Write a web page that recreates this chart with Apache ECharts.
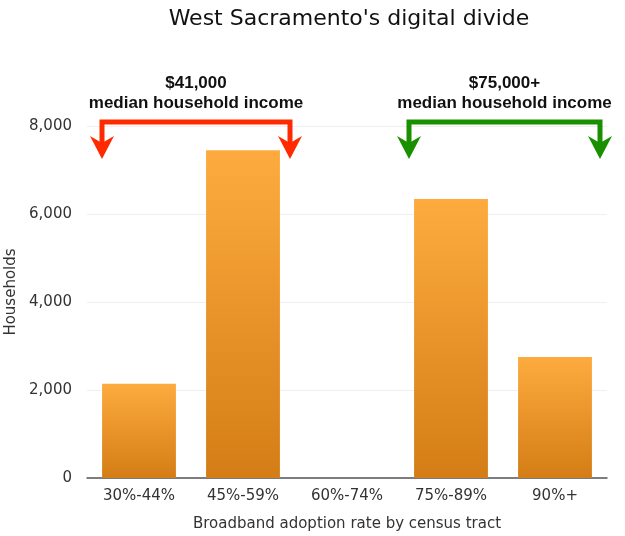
<!DOCTYPE html>
<html>
<head>
<meta charset="utf-8">
<script src="https://cdn.jsdelivr.net/npm/echarts@6/dist/echarts.min.js"></script>
<style>html,body{margin:0;padding:0;background:#fff}#c{width:625px;height:536px}</style>
</head>
<body>
<div id="c"></div>
<script>
var categories = ['30%-44%', '45%-59%', '60%-74%', '75%-89%', '90%+'];
var households = [2140, 7450, null, 6340, 2750];
var yTicks = [0, 2000, 4000, 6000, 8000];
var bracketTexts = [['$41,000', 'median household income'], ['$75,000+', 'median household income']];
var bracketFrom = ['30%-44%', '75%-89%'];
var bracketTo = ['45%-59%', '90%+'];
var bracketColors = ['#ff2a00', '#1a8f00'];

var FONT = '"DejaVu Sans", Arial, sans-serif';
var BFONT = '"Liberation Sans", Arial, sans-serif';
var chart = echarts.init(document.getElementById('c'), null, {renderer: 'canvas'});
chart.setOption({
  animation: false,
  title: {
    text: "West Sacramento's digital divide",
    left: 344, top: 3, textAlign: 'center',
    textStyle: {fontFamily: FONT, fontWeight: 'normal', fontSize: 22, color: '#111'}
  },
  grid: {left: 87, right: 18, top: 126, bottom: 58, containLabel: false, outerBoundsMode: 'none'},
  xAxis: {
    type: 'category', data: categories,
    name: 'Broadband adoption rate by census tract', nameLocation: 'middle', nameGap: 39,
    nameTextStyle: {fontFamily: FONT, fontSize: 15, color: '#333'},
    axisLine: {lineStyle: {color: '#555', width: 1.5}},
    axisTick: {show: false},
    axisLabel: {fontFamily: FONT, fontSize: 15, color: '#333', margin: 11}
  },
  yAxis: {
    type: 'value', min: yTicks[0], max: yTicks[yTicks.length - 1], interval: yTicks[1] - yTicks[0],
    name: 'Households', nameLocation: 'middle', nameGap: 68,
    nameTextStyle: {fontFamily: FONT, fontSize: 15, color: '#333', padding: [0, 0, 0, 20]},
    axisLine: {show: false}, axisTick: {show: false},
    splitLine: {lineStyle: {color: '#efefef', width: 1}},
    axisLabel: {fontFamily: FONT, fontSize: 15, color: '#333', margin: 15,
      formatter: function (v) { return v.toLocaleString('en-US'); }}
  },
  series: [{
    type: 'bar', data: households, barWidth: '71%',
    itemStyle: {
      color: new echarts.graphic.LinearGradient(0, 0, 0, 1, [
        {offset: 0, color: '#fdab3e'}, {offset: 1, color: '#d47d16'}
      ])
    }
  }]
});

function drawBrackets() {
  var yTop = chart.convertToPixel({yAxisIndex: 0}, yTicks[yTicks.length - 1]) - 4;
  var offs = [[-37, 47], [-42, 45]];
  var els = [];
  for (var i = 0; i < bracketFrom.length; i++) {
    var x1 = chart.convertToPixel({xAxisIndex: 0}, bracketFrom[i]) + offs[i][0];
    var x2 = chart.convertToPixel({xAxisIndex: 0}, bracketTo[i]) + offs[i][1];
    var col = bracketColors[i];
    var yTip = yTop + 37, yBase = yTop + 14, yNotch = yTop + 21;
    els.push({type: 'polyline', shape: {points: [[x1, yNotch], [x1, yTop], [x2, yTop], [x2, yNotch]]},
      style: {stroke: col, lineWidth: 5, fill: null, lineJoin: 'miter'}});
    [x1, x2].forEach(function (x) {
      els.push({type: 'polygon', shape: {points: [[x - 12, yBase], [x, yNotch], [x + 12, yBase], [x, yTip]]},
        style: {fill: col}});
    });
    var cx = (x1 + x2) / 2;
    els.push({type: 'text', x: cx, y: yTop - 39, style: {text: bracketTexts[i][0], align: 'center', verticalAlign: 'middle',
      font: 'bold 17px ' + BFONT, fill: '#111'}});
    els.push({type: 'text', x: cx, y: yTop - 19, style: {text: bracketTexts[i][1], align: 'center', verticalAlign: 'middle',
      font: 'bold 17px ' + BFONT, fill: '#111'}});
  }
  chart.setOption({graphic: {elements: els}});
}
drawBrackets();
</script>
</body>
</html>
